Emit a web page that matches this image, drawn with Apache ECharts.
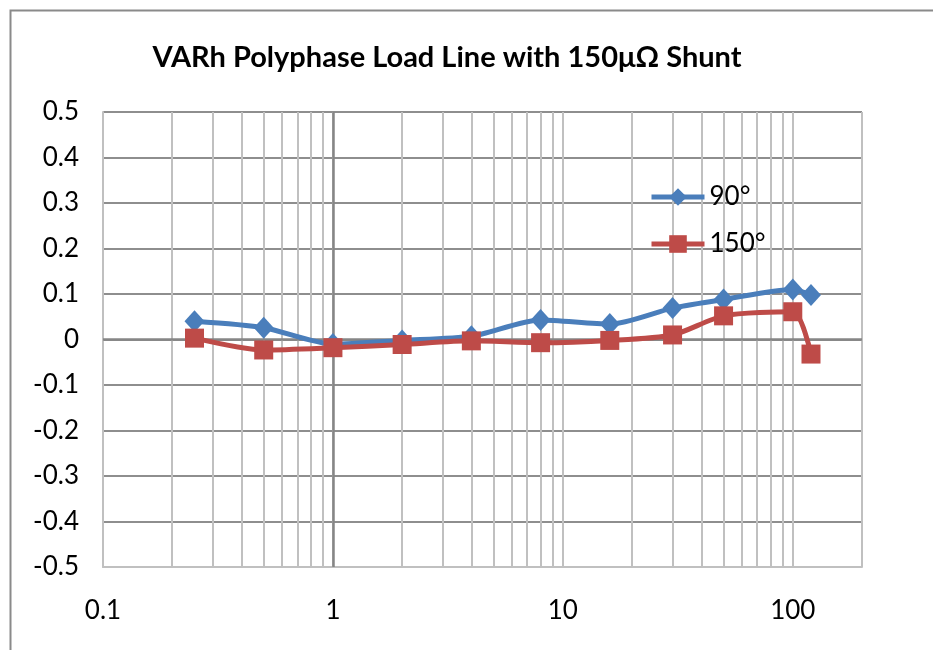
<!DOCTYPE html>
<html>
<head>
<meta charset="utf-8">
<script src="https://cdn.jsdelivr.net/npm/echarts@6/dist/echarts.min.js"></script>
<style>
html,body{margin:0;padding:0;background:#fff;}
#c{width:933px;height:650px;}
</style>
</head>
<body>
<div id="c"></div>
<script>
var titleText = 'VARh Polyphase Load Line with 150\u03bc\u03a9 Shunt';
var xValues = [0.25, 0.5, 1, 2, 4, 8, 16, 30, 50, 100, 120];
var series90 = [0.040, 0.026, -0.010, -0.002, 0.007, 0.043, 0.034, 0.069, 0.088, 0.110, 0.098];
var series150 = [0.003, -0.023, -0.018, -0.011, -0.003, -0.007, -0.002, 0.010, 0.052, 0.061, -0.032];
var seriesNames = ['90\u00b0', '150\u00b0'];
var xTickLabels = ['0.1', '1', '10', '100'];
var minorGrid = [0.2,0.3,0.4,0.5,0.6,0.7,0.8,0.9,2,3,4,5,6,7,8,9,20,30,40,50,60,70,80,90];

function pairs(xs, ys){ return xs.map(function(x,i){ return [x, ys[i]]; }); }

var font = 'Lato, Carlito, Calibri, "Open Sans", sans-serif';
var chart = echarts.init(document.getElementById('c'), null, {renderer:'canvas'});
var option = {
  animation: false,
  backgroundColor: '#fff',
  textStyle: {fontFamily: font},
  title: {
    text: titleText,
    left: 447, top: 43, textAlign: 'center', padding: 0,
    textStyle: {fontFamily: font, fontSize: 29, fontWeight: 'bold', color: '#000'}
  },
  graphic: [{
    type: 'rect', left: 8, top: 8, z: -10,
    shape: {width: 1000, height: 1000},
    style: {fill: 'none', stroke: '#8a8a8a', lineWidth: 2}
  }],
  legend: {
    orient: 'vertical',
    left: 649, top: 184, padding: 0, z: 20,
    itemWidth: 53, itemHeight: 22, itemGap: 21,
    lineStyle: {width: 5},
    textStyle: {fontFamily: font, fontSize: 26, color: '#000'},
    data: seriesNames
  },
  grid: {left: 103, right: 71, top: 112, bottom: 83, containLabel: false},
  xAxis: {
    type: 'log', logBase: 10, min: 0.1, max: 200,
    axisLine: {show: true, onZero: false, lineStyle: {color: '#c0c0c0', width: 2}},
    axisTick: {show: false},
    axisLabel: {
      fontFamily: font, fontSize: 26, color: '#000', margin: 31,
      showMaxLabel: false,
      formatter: function(v){
        for (var i=0;i<xTickLabels.length;i++){
          var t = parseFloat(xTickLabels[i]);
          if (Math.abs(v - t) / t < 1e-6) return xTickLabels[i];
        }
        return '';
      }
    },
    splitLine: {show: true, lineStyle: {color: '#c0c0c0', width: 2}}
  },
  yAxis: {
    type: 'value', min: -0.5, max: 0.5, interval: 0.1,
    axisLine: {show: true, lineStyle: {color: '#c0c0c0', width: 2}},
    axisTick: {show: false},
    axisLabel: {
      fontFamily: font, fontSize: 26, color: '#000', margin: 24,
      formatter: function(v){ return String(Math.round(v*10)/10); }
    },
    splitLine: {show: true, lineStyle: {color: '#8e8e8e', width: 2}}
  },
  series: [{
    type: 'line', name: '_grid', data: [], silent: true,
    markLine: {
      silent: true, symbol: 'none', animation: false,
      label: {show: false},
      lineStyle: {color: '#c0c0c0', width: 2, type: 'solid'},
      data: minorGrid.map(function(v){ return {xAxis: v}; })
    },
    z: 1
  }, {
    type: 'line', name: '_axis', data: [], silent: true,
    markLine: {
      silent: true, symbol: 'none', animation: false,
      label: {show: false},
      lineStyle: {color: '#868686', width: 2.5, type: 'solid'},
      data: [{xAxis: 1}, {yAxis: 0}]
    },
    z: 2
  }, {
    type: 'line', name: seriesNames[0],
    data: pairs(xValues, series90),
    smooth: 0.25,
    symbol: 'diamond', symbolSize: [20, 22],
    lineStyle: {color: '#4a7ebb', width: 5},
    itemStyle: {color: '#4a7ebb'},
    z: 5
  }, {
    type: 'line', name: seriesNames[1],
    data: pairs(xValues, series150),
    smooth: 0.25,
    symbol: 'rect', symbolSize: 19,
    lineStyle: {color: '#be4b48', width: 5},
    itemStyle: {color: '#be4b48'},
    z: 6
  }]
};
chart.setOption(option);
</script>
</body>
</html>
